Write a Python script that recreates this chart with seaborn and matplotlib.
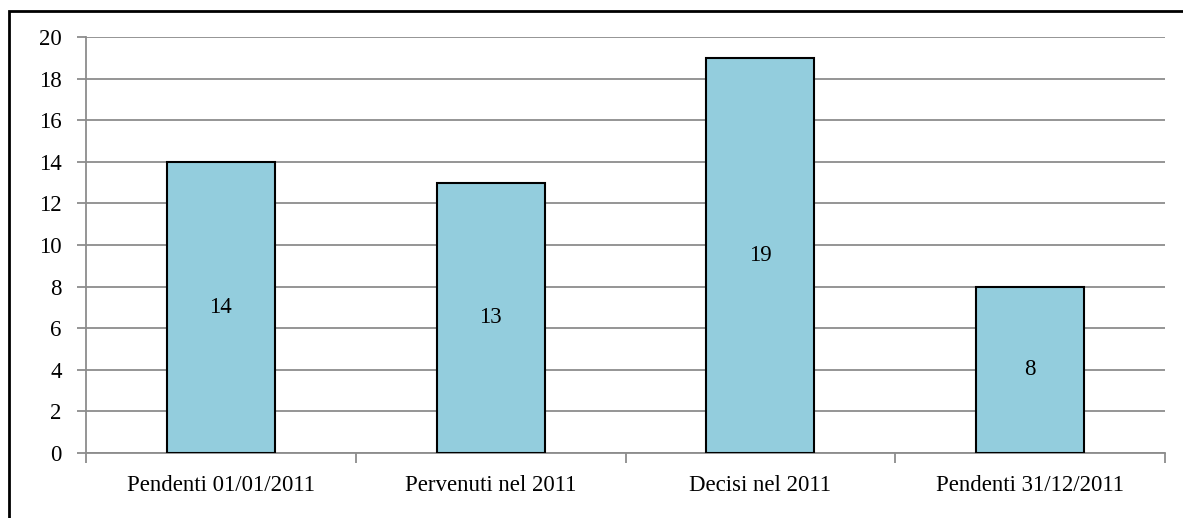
import matplotlib
matplotlib.use("Agg")
import matplotlib.pyplot as plt
import seaborn as sns
import pandas as pd
from matplotlib.patches import Rectangle

categories = ["Pendenti 01/01/2011", "Pervenuti nel 2011", "Decisi nel 2011", "Pendenti 31/12/2011"]
values = [14, 13, 19, 8]
y_ticks = [0, 2, 4, 6, 8, 10, 12, 14, 16, 18, 20]

sns.set_theme(style="white")
plt.rcParams["font.family"] = ["Liberation Serif", "DejaVu Serif"]

df = pd.DataFrame({"categoria": categories, "valore": values})

W, H = 1183, 518
FS = 16.5
fig = plt.figure(figsize=(W / 100, H / 100), dpi=100)
ax = fig.add_axes([86 / W, 1 - 453 / H, (1165 - 86) / W, (453 - 37) / H])

sns.barplot(data=df, x="categoria", y="valore", color="#93CDDD", width=0.4,
            edgecolor="black", linewidth=1.5, saturation=1, ax=ax, zorder=3)

ax.set_ylim(0, 20)
ax.set_xlim(-0.5, len(categories) - 0.5)
ax.set_yticks(y_ticks)
ax.set_yticklabels([str(t) for t in y_ticks], fontsize=FS, color="black")
ax.set_xticks(range(len(categories)))
ax.set_xticklabels(categories, fontsize=FS, color="black")
ax.set_xlabel("")
ax.set_ylabel("")

# horizontal gridlines
ax.yaxis.grid(True, color="#8C8C8C", linewidth=1.3, zorder=0)
ax.xaxis.grid(False)
ax.set_axisbelow(True)

for side in ["top", "right"]:
    ax.spines[side].set_visible(False)
for side in ["left", "bottom"]:
    ax.spines[side].set_color("#8C8C8C")
    ax.spines[side].set_linewidth(1.3)

ax.tick_params(axis="y", which="major", length=6.5, width=1.3, color="#8C8C8C",
               direction="out", left=True, pad=11)
ax.tick_params(axis="x", which="major", length=0, pad=16)
# category separator ticks on the x axis
ax.set_xticks([i - 0.5 for i in range(len(categories) + 1)], minor=True)
ax.tick_params(axis="x", which="minor", length=7, width=1.3, color="#8C8C8C",
               direction="out", bottom=True)

for i, v in enumerate(values):
    ax.text(i, v / 2, str(v), ha="center", va="center", fontsize=FS, color="black", zorder=4)

# chart frame
fig.patches.append(Rectangle((9 / W, -0.1), 1.2, 1 - 11 / H + 0.1,
                             transform=fig.transFigure, fill=False,
                             edgecolor="black", linewidth=2))

fig.savefig("out.png", dpi=100, facecolor="white")
